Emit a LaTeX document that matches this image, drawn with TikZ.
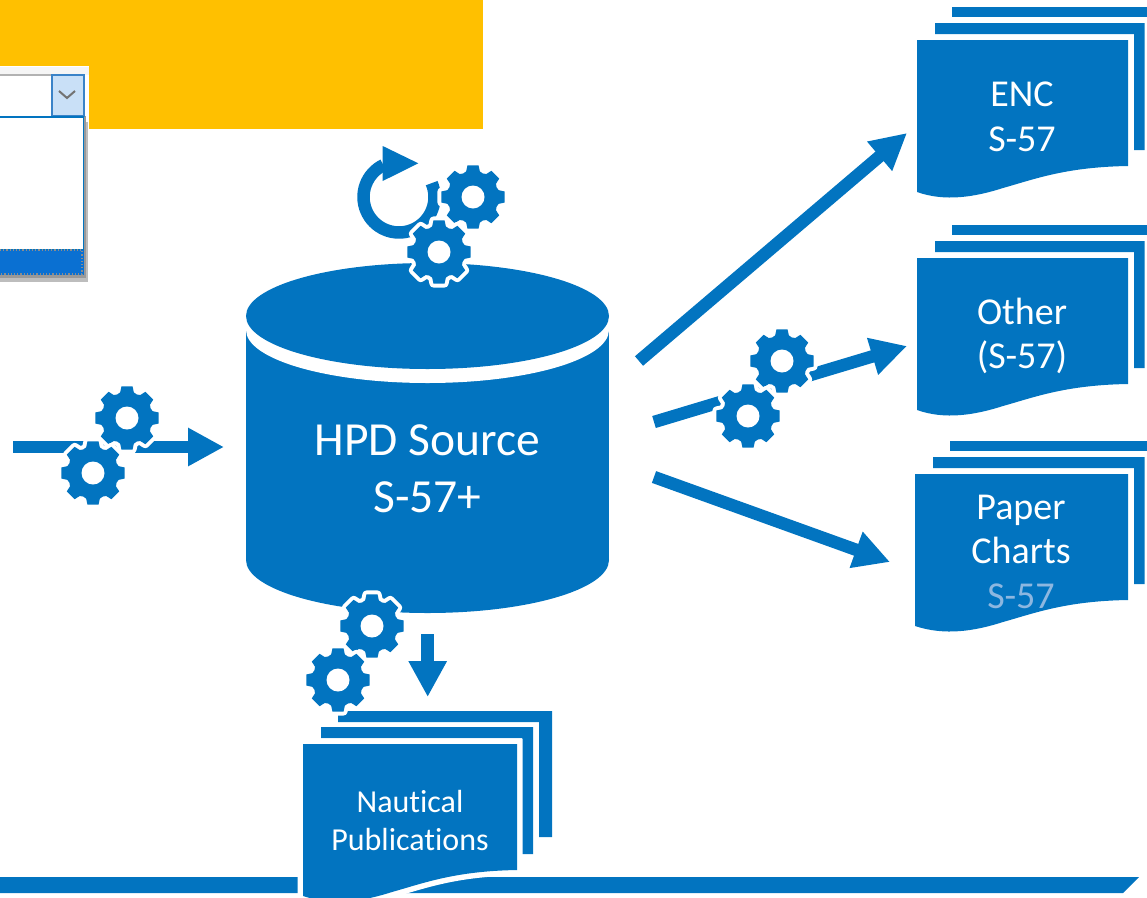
\documentclass[tikz,border=0pt]{standalone}
\usepackage{fontspec}
\setmainfont[Ligatures=NoCommon]{Carlito}
\usetikzlibrary{arrows.meta}
\definecolor{hpd}{HTML}{0274C0}
\definecolor{amber}{HTML}{FFC000}
\definecolor{fadedtext}{HTML}{8DB7E0}
\definecolor{btnfill}{HTML}{C9E0F7}
\definecolor{btnline}{HTML}{3A83C8}
\definecolor{shadowgrey}{HTML}{BDBDBD}
\definecolor{listsel}{HTML}{0A70D2}
\newcommand{\gearoutline}{(-22.5:25.5) \foreach \a in {0,45,...,315}{ -- (\a-15:26.5) -- (\a-10:32) -- (\a+10:32) -- (\a+15:26.5) -- (\a+22.5:25.5)} -- cycle}
\tikzset{
  x=1pt,y=-1pt,
  gearbody/.style={fill=hpd,line join=round},
  gearhalo/.pic={
    \path[draw=white,line width=8pt,line join=round,fill=white] \gearoutline;
    \path[gearbody] \gearoutline;
    \fill[white] (0,0) circle (11.5);
  },
  flow/.style={draw=hpd,line width=12.5pt,-{Triangle[length=36pt,width=36pt,fill=hpd]}},
  sheet/.style={fill=hpd},
  lbl/.style={text=white,inner sep=0pt,anchor=base},
  lblbig/.style={lbl,font=\fontsize{47.5}{57}\selectfont},
  lblmid/.style={lbl,font=\fontsize{38}{46}\selectfont},
  lblsmall/.style={lbl,font=\fontsize{32}{38}\selectfont},
}
% #1 top of the front sheet, #2 first x of 2nd sheet, #3 first x of 3rd sheet
\newcommand{\stackback}[3]{%
  \fill[sheet] (#3,#1-33) rectangle (1160,#1-23);
  \fill[sheet] (#2,#1-17) -- (1144.5,#1-17) -- (1144.5,#1+110) -- (1134,#1+110) -- (1134,#1-6) -- (#2,#1-6) -- cycle;
}
\newcommand{\frontsheet}[3]{%
  \path[#3] (#1,#2) -- (1128,#2) -- (1128,#2+126)
    .. controls (1066,#2+127) and (1035,#2+139) .. (1003,#2+148)
    .. controls (975,#2+157) and (945,#2+162) .. (#1,#2+152) -- cycle;
}
\begin{document}
\begin{tikzpicture}
\useasboundingbox (0,0) rectangle (1147,897);
\clip (0,0) rectangle (1147,897);

% amber banner and drop-down list
\fill[amber] (0,0) rectangle (483,129);
\fill[white] (0,66) rectangle (89,283);
\fill[black!4] (0,67) rectangle (89,75);
\fill[shadowgrey] (0,122) rectangle (88,282);
\fill[black!40] (0,116) rectangle (86,278);
\fill[white] (0,75) rectangle (52,115);
\draw[black!30,line width=1.5pt] (0,75) -- (52,75) -- (52,115);
\draw[btnline,line width=1.5pt,fill=btnfill] (52,75) rectangle (84,116);
\draw[black!55,line width=2pt] (59,91) -- (67,98) -- (75,91);
\draw[hpd,line width=1.5pt,fill=white] (-2,117) rectangle (83.5,250);
\fill[listsel] (0,250) rectangle (84,275);
\draw[black!45,dotted,line width=1.2pt] (0,250) -- (82,250) -- (82,274) -- (0,274);

% database cylinder
\fill[hpd] (246,330) rectangle (609,560);
\fill[hpd] (427.5,560) ellipse [x radius=181.5,y radius=53];
\fill[white] (427.5,330) ellipse [x radius=181.5,y radius=53];
\fill[hpd] (427.5,316) ellipse [x radius=181.5,y radius=53];
\node[lblbig] (hpd1) at (427.5,455) {HPD Source};
\node[lblbig] (hpd2) at (427.5,512) {S-57+};

% refresh loop on top
\draw[hpd,line width=12.5pt] plot[domain=-23:244,samples=50] ({399+35.5*cos(\x)},{197+35.5*sin(\x)});
\fill[hpd] (382.7,146) -- (418.3,163.3) -- (382.7,181) -- cycle;
\pic (gt1) at (473,197) {gearhalo};
\pic (gt2) at (439,252) {gearhalo};

% input arrow
\coordinate (inS) at (13,447);
\coordinate (inE) at (224,447);
\draw[flow] (inS) -- (inE);
\pic (gl1) at (127,418) {gearhalo};
\pic (gl2) at (93,473) {gearhalo};

% output arrows
\coordinate (encS) at (639,361);
\coordinate (encE) at (907,133);
\draw[flow] (encS) -- (encE);
\coordinate (othS) at (654,422);
\coordinate (othE) at (907,346);
\draw[flow] (othS) -- (othE);
\coordinate (papS) at (654,477);
\coordinate (papE) at (890,562);
\draw[flow] (papS) -- (papE);
\pic (gm1) at (782,361) {gearhalo};
\pic (gm2) at (748,416) {gearhalo};

% ENC stack
\stackback{40}{935}{952}
\frontsheet{917}{40}{sheet}
\node[lblmid] (enc1) at (1022,106) {ENC};
\node[lblmid] (enc2) at (1022,151) {S-57};

% Other stack
\stackback{258}{935}{952}
\frontsheet{917}{258}{sheet}
\node[lblmid] (oth1) at (1022,324) {Other};
\node[lblmid] (oth2) at (1022,368) {(S-57)};

% Paper stack
\stackback{474}{933}{950}
\frontsheet{915}{474}{sheet}
\node[lblmid] (pap1) at (1021,519) {Paper};
\node[lblmid] (pap2) at (1021,563) {Charts};
\node[lblmid,text=fadedtext] (pap3) at (1021,608) {S-57};

% footer bar
\fill[hpd] (0,877) -- (1139,877) -- (1123,893) -- (0,893) -- cycle;

% Nautical publications stack
\coordinate (pubS) at (427.7,634);
\coordinate (pubE) at (427.7,697);
\draw[flow] (pubS) -- (pubE);
\fill[sheet] (338,711) -- (552,711) -- (552,837) -- (539,837) -- (539,722) -- (338,722) -- cycle;
\fill[sheet] (321,727) -- (533,727) -- (533,854) -- (522,854) -- (522,738) -- (321,738) -- cycle;
\begin{scope}[xshift=-611pt]
  \path[draw=white,line width=11pt] (914,744) -- (1128,744) -- (1128,870)
    .. controls (1066,871) and (1035,883) .. (1003,892)
    .. controls (975,901) and (945,906) .. (914,896) -- cycle;
  \frontsheet{914}{744}{sheet}
\end{scope}
\node[lblsmall] (pub1) at (410,812) {Nautical};
\node[lblsmall] (pub2) at (410,850) {Publications};
\pic (gb1) at (372,626) {gearhalo};
\pic (gb2) at (338,680) {gearhalo};
\end{tikzpicture}
\end{document}
